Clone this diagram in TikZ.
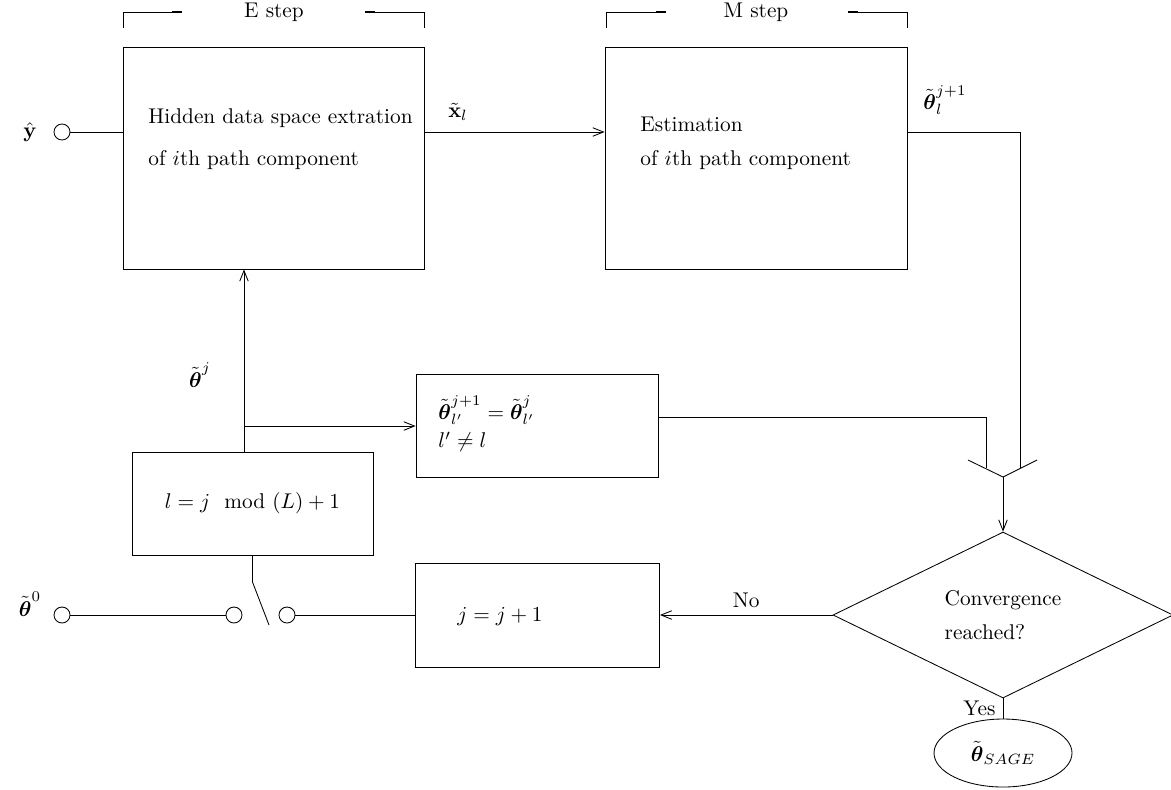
\documentclass[tikz,border=0pt]{standalone}
\usepackage{amsmath,amssymb}
\usepackage{tikz}
\usetikzlibrary{arrows.meta}
\usetikzlibrary{shapes.geometric}

\newcommand{\pxu}{0.0165cm}
\newcommand{\btheta}{\tilde{\boldsymbol{\theta}}}

\begin{document}
\begin{tikzpicture}[x=\pxu,y=-\pxu,>={Straight Barb[length=5pt,width=4pt]}]
    \tikzset{blk/.style={draw,inner sep=0pt},
             port/.style={draw,circle,inner sep=0pt,minimum size=16*\pxu},
             txt/.style={inner sep=0pt,anchor=west}}
    \useasboundingbox (0,0) rectangle (1171,789);

    % blocks
    \node (ebox) [blk,minimum width=301*\pxu,minimum height=222*\pxu] at (273.5,158) {};
    \node (mbox) [blk,minimum width=302*\pxu,minimum height=222*\pxu] at (756,158) {};
    \node (keep) [blk,minimum width=242*\pxu,minimum height=103*\pxu] at (537,425.5) {};
    \node (lbox) [blk,minimum width=241*\pxu,minimum height=103*\pxu] at (252.5,503.5) {$l = j \mod (L)+1$};
    \node (jbox) [blk,minimum width=244*\pxu,minimum height=104*\pxu] at (537.5,615) {};
    \node (conv) [blk,diamond,minimum width=340*\pxu,minimum height=138*\pxu,align=left] at (1003,615) {Convergence\\[4pt]reached?};
    \node (sage) [blk,ellipse,minimum width=138*\pxu,minimum height=68*\pxu] at (1003,753) {$\btheta_{SAGE}$};

    \node (e1) [txt] at (148,118) {Hidden data space extration};
    \node (e2) [txt] at (148,160) {of $i$th path component};
    \node (m1) [txt] at (640,124) {Estimation};
    \node (m2) [txt] at (640,160) {of $i$th path component};
    \node (k1) [txt] at (438,410) {$\btheta_{l'}^{j+1} = \btheta_{l'}^{j}$};
    \node (k2) [txt] at (438,442) {$l' \neq l$};
    \node (j1) at (500,617) {$j = j+1$};

    % E step and M step brackets
    \node (estep) at (274,12) {E step};
    \node (mstep) at (756,12) {M step};
    \draw (123,28) -- (123,12) -- (182,12);
    \draw (365,12) -- (424,12) -- (424,28);
    \draw (606,28) -- (606,12) -- (666,12);
    \draw (848,12) -- (907,12) -- (907,28);
    \draw[line width=0.9pt] (172,12) -- (182,12) (365,12) -- (375,12);
    \draw[line width=0.9pt] (656,12) -- (666,12) (848,12) -- (858,12);

    % inputs
    \node (yin) [port] at (62,132) {};
    \node (ylab) at (30,132) {$\hat{\mathbf{y}}$};
    \node (tin) [port] at (62,615) {};
    \node (tlab) at (30,604) {$\btheta^{0}$};
    \draw (yin) -- (yin -| ebox.west);

    % E step -> M step
    \coordinate (xl) at (424,132);
    \draw[->] (xl) -- (xl -| mbox.west);
    \node (xlab) at (458,112) {$\tilde{\mathbf{x}}_l$};
    \node (tlj) at (945,100) {$\btheta_{l}^{j+1}$};

    % merge into convergence test
    \coordinate (jn) at (1003,477);
    \coordinate (mout) at (1020,132);
    \coordinate (kout) at (658,417);
    \draw (mout -| mbox.east) -- (mout) -- (1020,468);
    \draw (kout) -- (986,417) -- (986,468);
    \draw (968,460) -- (jn) -- (1037,460);
    \draw[->] (jn) -- (conv.north);

    % theta^j feedback
    \coordinate (tj) at (244,452);
    \coordinate (br) at (244,426);
    \draw[->] (tj) -- (tj |- ebox.south);
    \draw[->] (br) -- (br -| keep.west);
    \node (tjlab) at (200,375) {$\btheta^{j}$};

    % switch
    \node (s1) [port] at (234,615) {};
    \node (s2) [port] at (287,615) {};
    \draw (lbox.south) -- (252.5,582) -- (269,625);
    \draw (tin) -- (s1);
    \draw (s2) -- (s2 -| jbox.west);

    % outcome
    \draw[->] (conv.west) to node[above]{No} (jbox.east);
    \draw (conv.south) to node[left]{Yes} (sage.north);
\end{tikzpicture}
\end{document}
